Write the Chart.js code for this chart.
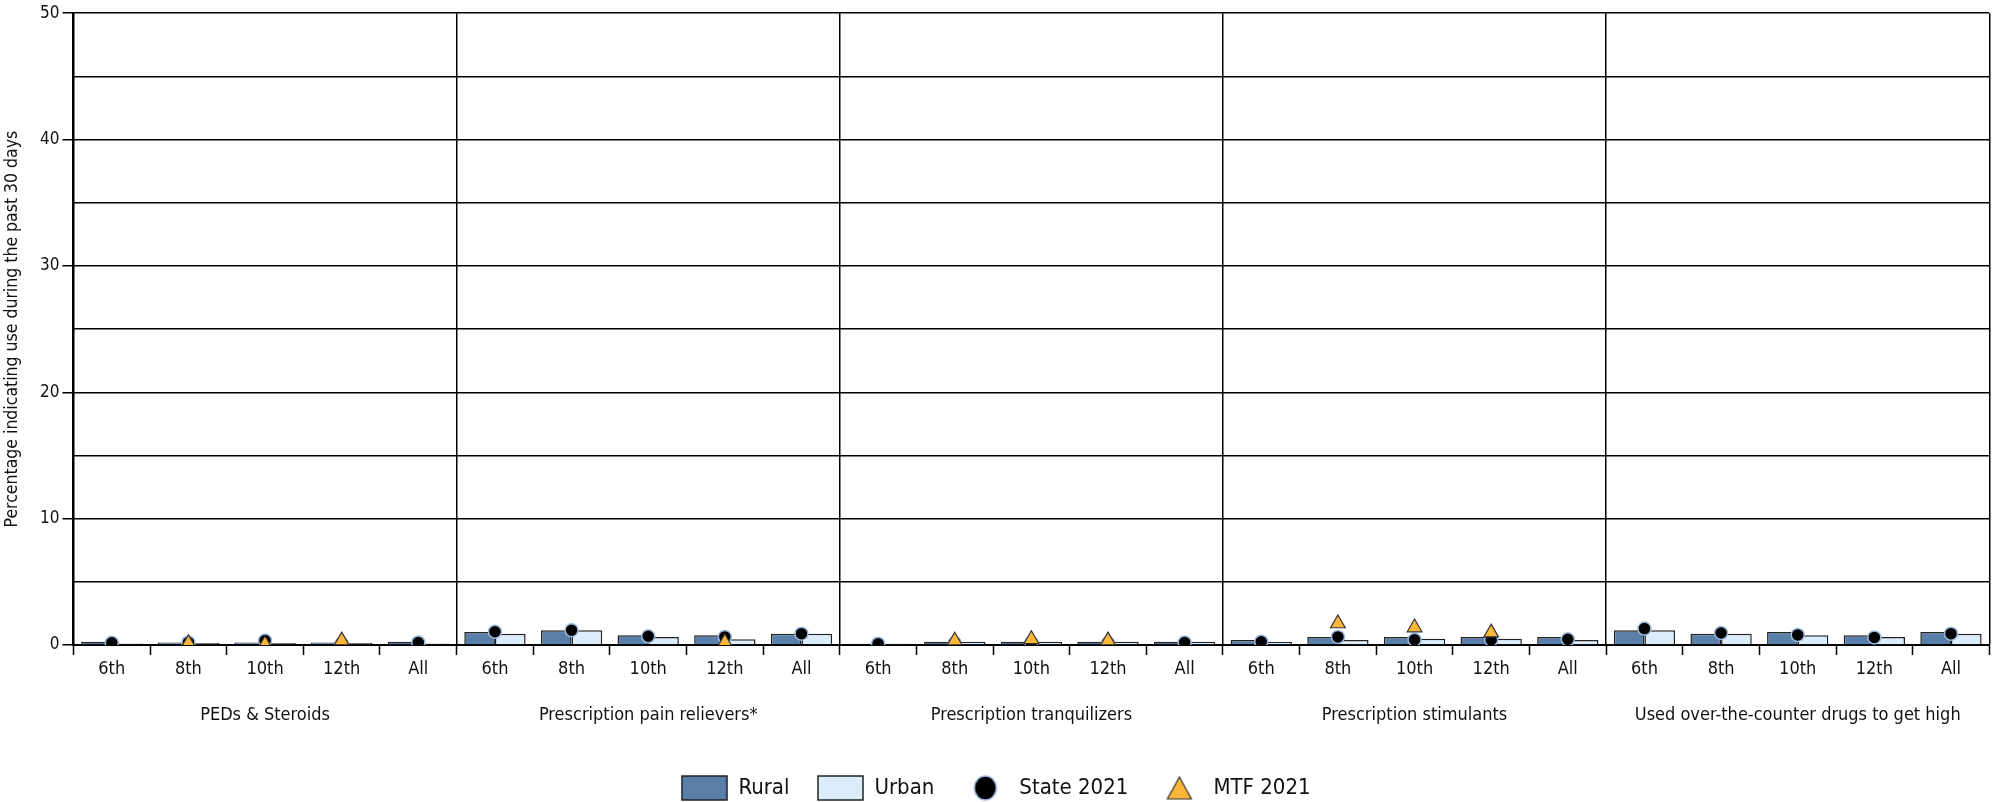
<!DOCTYPE html>
<html>
<head>
<meta charset="utf-8">
<script src="https://cdn.jsdelivr.net/npm/chart.js@4/dist/chart.umd.min.js"></script>
<style>
body { margin: 0; background: #fff; }
#wrap { width: 1999px; height: 802px; }
</style>
</head>
<body>
<div id="wrap"><canvas id="plot"></canvas></div>
<script>
const groups = ['PEDs & Steroids', 'Prescription pain relievers*', 'Prescription tranquilizers', 'Prescription stimulants', 'Used over-the-counter drugs to get high'];
const grades = ['6th', '8th', '10th', '12th', 'All'];

// one value per grade, five grades per group
const rural = [0.25, 0.2, 0.2, 0.2, 0.25,  1.03, 1.17, 0.77, 0.77, 0.9,  0.1, 0.26, 0.26, 0.26, 0.26,  0.4, 0.64, 0.64, 0.64, 0.64,  1.17, 0.9, 1.03, 0.77, 1.03];
const urban = [0.12, 0.15, 0.15, 0.15, 0.12,  0.9, 1.17, 0.64, 0.45, 0.9,  0.1, 0.26, 0.26, 0.26, 0.26,  0.24, 0.4, 0.5, 0.5, 0.4,  1.17, 0.9, 0.77, 0.64, 0.9];
const state2021 = [0.18, 0.2, 0.35, 0.1, 0.2,  1.05, 1.17, 0.69, 0.64, 0.9,  0.1, 0.15, 0.2, 0.15, 0.2,  0.26, 0.64, 0.42, 0.4, 0.45,  1.3, 0.95, 0.8, 0.6, 0.9];
const mtf2021 = [null, 0.13, 0.05, 0.35, null,  null, null, null, 0.2, null,  null, 0.34, 0.45, 0.35, null,  null, 1.7, 1.38, 0.98, null,  null, null, null, null, null];
const yTicks = [0, 10, 20, 30, 40, 50];

const labels = [];
for (const g of groups) for (const gr of grades) labels.push(gr);

const font = '"Liberation Sans Narrow", "DejaVu Sans Condensed", sans-serif';
const ruralColor = '#5a7fa8';
const urbanColor = '#dbedfb';
const mtfColor = '#fbb73a';

function icon(w, h, draw)
{
	const c = document.createElement('canvas');
	c.width = w;
	c.height = h;
	draw(c.getContext('2d'));
	return c;
}

function swatch(fill)
{
	return icon(47, 26, function(ctx)
	{
		ctx.fillStyle = fill;
		ctx.fillRect(1, 1, 45, 24);
		ctx.strokeStyle = '#222';
		ctx.lineWidth = 1.5;
		ctx.strokeRect(1, 1, 45, 24);
	});
}

const legendIcons =
[
	swatch(ruralColor),
	swatch(urbanColor),
	icon(26, 26, function(ctx)
	{
		ctx.beginPath();
		ctx.ellipse(13, 13, 11, 12, 0, 0, Math.PI * 2);
		ctx.fillStyle = '#000';
		ctx.fill();
		ctx.strokeStyle = '#9dbbe0';
		ctx.lineWidth = 1.5;
		ctx.stroke();
	}),
	icon(28, 26, function(ctx)
	{
		ctx.beginPath();
		ctx.moveTo(14, 2);
		ctx.lineTo(26, 24);
		ctx.lineTo(2, 24);
		ctx.closePath();
		ctx.fillStyle = mtfColor;
		ctx.fill();
		ctx.strokeStyle = '#333';
		ctx.lineWidth = 1.2;
		ctx.stroke();
	})
];

const ctx = document.getElementById('plot').getContext('2d');

new Chart(ctx,
{
	type: 'bar',
	data:
	{
		labels: labels,
		datasets:
		[
			{
				label: 'Rural',
				data: rural,
				backgroundColor: ruralColor,
				borderColor: '#222',
				borderWidth: 1.5,
				categoryPercentage: 0.8,
				barPercentage: 1.0,
				order: 2
			},
			{
				label: 'Urban',
				data: urban,
				backgroundColor: urbanColor,
				borderColor: '#222',
				borderWidth: 1.5,
				categoryPercentage: 0.8,
				barPercentage: 1.0,
				order: 2
			},
			{
				type: 'line',
				label: 'State 2021',
				data: state2021,
				showLine: false,
				pointStyle: 'circle',
				pointRadius: 6.5,
				pointHoverRadius: 6.5,
				pointBackgroundColor: '#000',
				pointBorderColor: '#9dbbe0',
				pointBorderWidth: 1.5,
				order: 1
			},
			{
				type: 'line',
				label: 'MTF 2021',
				data: mtf2021,
				showLine: false,
				pointStyle: 'triangle',
				pointRadius: 8.5,
				pointHoverRadius: 8.5,
				pointBackgroundColor: mtfColor,
				pointBorderColor: '#333',
				pointBorderWidth: 1.2,
				order: 0
			}
		]
	},
	options:
	{
		responsive: true,
		maintainAspectRatio: false,
		animation: false,
		layout: { padding: { top: 7, right: 9, left: 2, bottom: -7 } },
		plugins:
		{
			tooltip: { enabled: false },
			legend:
			{
				position: 'bottom',
				labels:
				{
					usePointStyle: true,
					pointStyleWidth: 46,
					padding: 28,
					color: '#111',
					font: { family: font, size: 22 },
					generateLabels: function(chart)
					{
						return chart.data.datasets.map(function(ds, i)
						{
							return {
								text: ds.label,
								pointStyle: legendIcons[i],
								datasetIndex: i,
								hidden: false,
								lineWidth: 0,
								fontColor: '#111'
							};
						});
					}
				}
			}
		},
		scales:
		{
			x:
			{
				offset: true,
				grid:
				{
					offset: true,
					drawOnChartArea: false,
					drawTicks: true,
					tickLength: 10,
					tickColor: '#000',
					tickWidth: 1.5
				},
				border: { color: '#000', width: 2 },
				ticks:
				{
					color: '#111',
					padding: 4,
					maxRotation: 0,
					autoSkip: false,
					font: { family: font, size: 18 }
				}
			},
			x2:
			{
				type: 'category',
				labels: groups,
				position: 'bottom',
				offset: true,
				grid:
				{
					offset: true,
					drawOnChartArea: true,
					drawTicks: false,
					color: '#000',
					lineWidth: 1.5
				},
				border: { display: false },
				ticks:
				{
					color: '#111',
					padding: 20,
					maxRotation: 0,
					autoSkip: false,
					font: { family: font, size: 18 }
				},
				title:
				{
					display: true,
					text: ' ',
					padding: { top: 0, bottom: 1.6 },
					font: { size: 1 }
				}
			},
			y:
			{
				min: 0,
				max: 50,
				grid:
				{
					color: '#000',
					lineWidth: 1.5,
					tickLength: 11,
					tickColor: function(c)
					{
						return yTicks.includes(c.tick.value) ? '#000' : 'rgba(0,0,0,0)';
					}
				},
				border: { color: '#000', width: 2 },
				ticks:
				{
					stepSize: 5,
					color: '#111',
					padding: 3,
					font: { family: font, size: 17 },
					callback: function(v)
					{
						return yTicks.includes(v) ? v : '';
					}
				},
				title:
				{
					display: true,
					text: 'Percentage indicating use during the past 30 days',
					color: '#111',
					padding: { top: 0, bottom: 14 },
					font: { family: font, size: 17.5 }
				}
			}
		}
	}
});
</script>
</body>
</html>
